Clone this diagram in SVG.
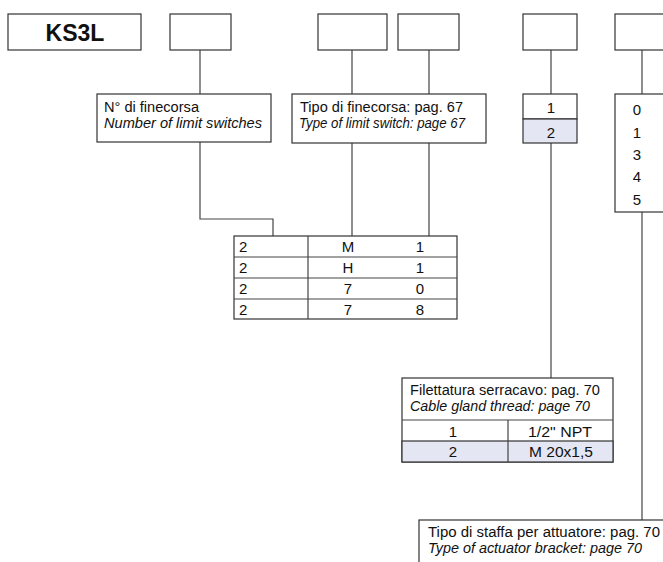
<svg xmlns="http://www.w3.org/2000/svg" width="663" height="562" viewBox="0 0 663 562">
<style>
.b{fill:#fff;stroke:#333;stroke-width:1.2}
.f{fill:#e4e6f4;stroke:#333;stroke-width:1.2}
.l{stroke:#444;stroke-width:1.2;fill:none}
text{font-family:"Liberation Sans",Arial,sans-serif;font-size:14px;fill:#111}
.i{font-style:italic}
.c{text-anchor:middle}
.t{font-size:15px}
</style>
<rect width="663" height="562" fill="#fff"/>
<g id="connectors">
<path class="l" d="M200 50V94M352 50V94M429 50V94M551 50V94M642 50V94"/>
<path class="l" d="M200 142V219H273V236"/>
<path class="l" d="M352 143V236M429 143V236"/>
<path class="l" d="M551 143V378"/>
<path class="l" d="M642 212V520"/>
</g>
<g id="ks3l"><rect class="b" x="8" y="14" width="133" height="36"/><text x="75" y="41" class="c" style="font-size:23px;font-weight:bold">KS3L</text></g>
<g id="box2"><rect class="b" x="170" y="14" width="61" height="36"/></g>
<g id="box3"><rect class="b" x="318" y="14" width="69" height="36"/></g>
<g id="box4"><rect class="b" x="398" y="14" width="61" height="36"/></g>
<g id="box5"><rect class="b" x="523" y="14" width="54" height="36"/></g>
<g id="box6"><rect class="b" x="615" y="14" width="60" height="36"/></g>
<g id="nfinecorsa"><rect class="b" x="97" y="94" width="174" height="48"/>
<text x="104" y="112" textLength="95" lengthAdjust="spacingAndGlyphs">N° di finecorsa</text><text x="104" y="128" class="i" textLength="158" lengthAdjust="spacingAndGlyphs">Number of limit switches</text></g>
<g id="tipofinecorsa"><rect class="b" x="292" y="94" width="194" height="49"/>
<text x="300" y="112" textLength="163" lengthAdjust="spacingAndGlyphs">Tipo di finecorsa: pag. 67</text><text x="299" y="128" class="i" textLength="166" lengthAdjust="spacingAndGlyphs">Type of limit switch: page 67</text></g>
<g id="opt12"><rect class="b" x="523" y="94" width="54" height="25"/><rect class="f" x="523" y="119" width="54" height="24"/>
<text x="551" y="113" class="c t">1</text><text x="551" y="138" class="c t">2</text></g>
<g id="opt05"><rect class="b" x="615" y="94" width="60" height="118"/>
<text x="637" y="115" class="c t">0</text><text x="637" y="138" class="c t">1</text><text x="637" y="160" class="c t">3</text><text x="637" y="182" class="c t">4</text><text x="637" y="205" class="c t">5</text></g>
<g id="table"><rect class="b" x="234" y="236" width="223" height="83"/>
<path class="l" d="M234 257H457M234 278H457M234 299H457M308 236V319"/>
<text x="239" y="252" class="t">2</text><text x="348" y="252" class="c t">M</text><text x="420" y="252" class="c t">1</text>
<text x="239" y="273" class="t">2</text><text x="348" y="273" class="c t">H</text><text x="420" y="273" class="c t">1</text>
<text x="239" y="294" class="t">2</text><text x="348" y="294" class="c t">7</text><text x="420" y="294" class="c t">0</text>
<text x="239" y="315" class="t">2</text><text x="348" y="315" class="c t">7</text><text x="420" y="315" class="c t">8</text></g>
<g id="filettatura"><rect class="b" x="402" y="378" width="211" height="84"/><rect class="f" x="402" y="441" width="211" height="21"/>
<path class="l" d="M402 420H613M508 420V462"/>
<text x="410" y="395" textLength="190" lengthAdjust="spacingAndGlyphs">Filettatura serracavo: pag. 70</text><text x="410" y="411" class="i" textLength="180" lengthAdjust="spacingAndGlyphs">Cable gland thread: page 70</text>
<text x="453" y="437" class="c t">1</text><text x="560" y="437" class="c t" textLength="64" lengthAdjust="spacingAndGlyphs">1/2" NPT</text>
<text x="453" y="457" class="c t">2</text><text x="561" y="457" class="c t" textLength="64" lengthAdjust="spacingAndGlyphs">M 20x1,5</text></g>
<g id="staffa"><rect class="b" x="419" y="520" width="260" height="60"/>
<text x="428" y="537" textLength="232" lengthAdjust="spacingAndGlyphs">Tipo di staffa per attuatore: pag. 70</text><text x="428" y="553" class="i" textLength="214" lengthAdjust="spacingAndGlyphs">Type of actuator bracket: page 70</text></g>
</svg>
